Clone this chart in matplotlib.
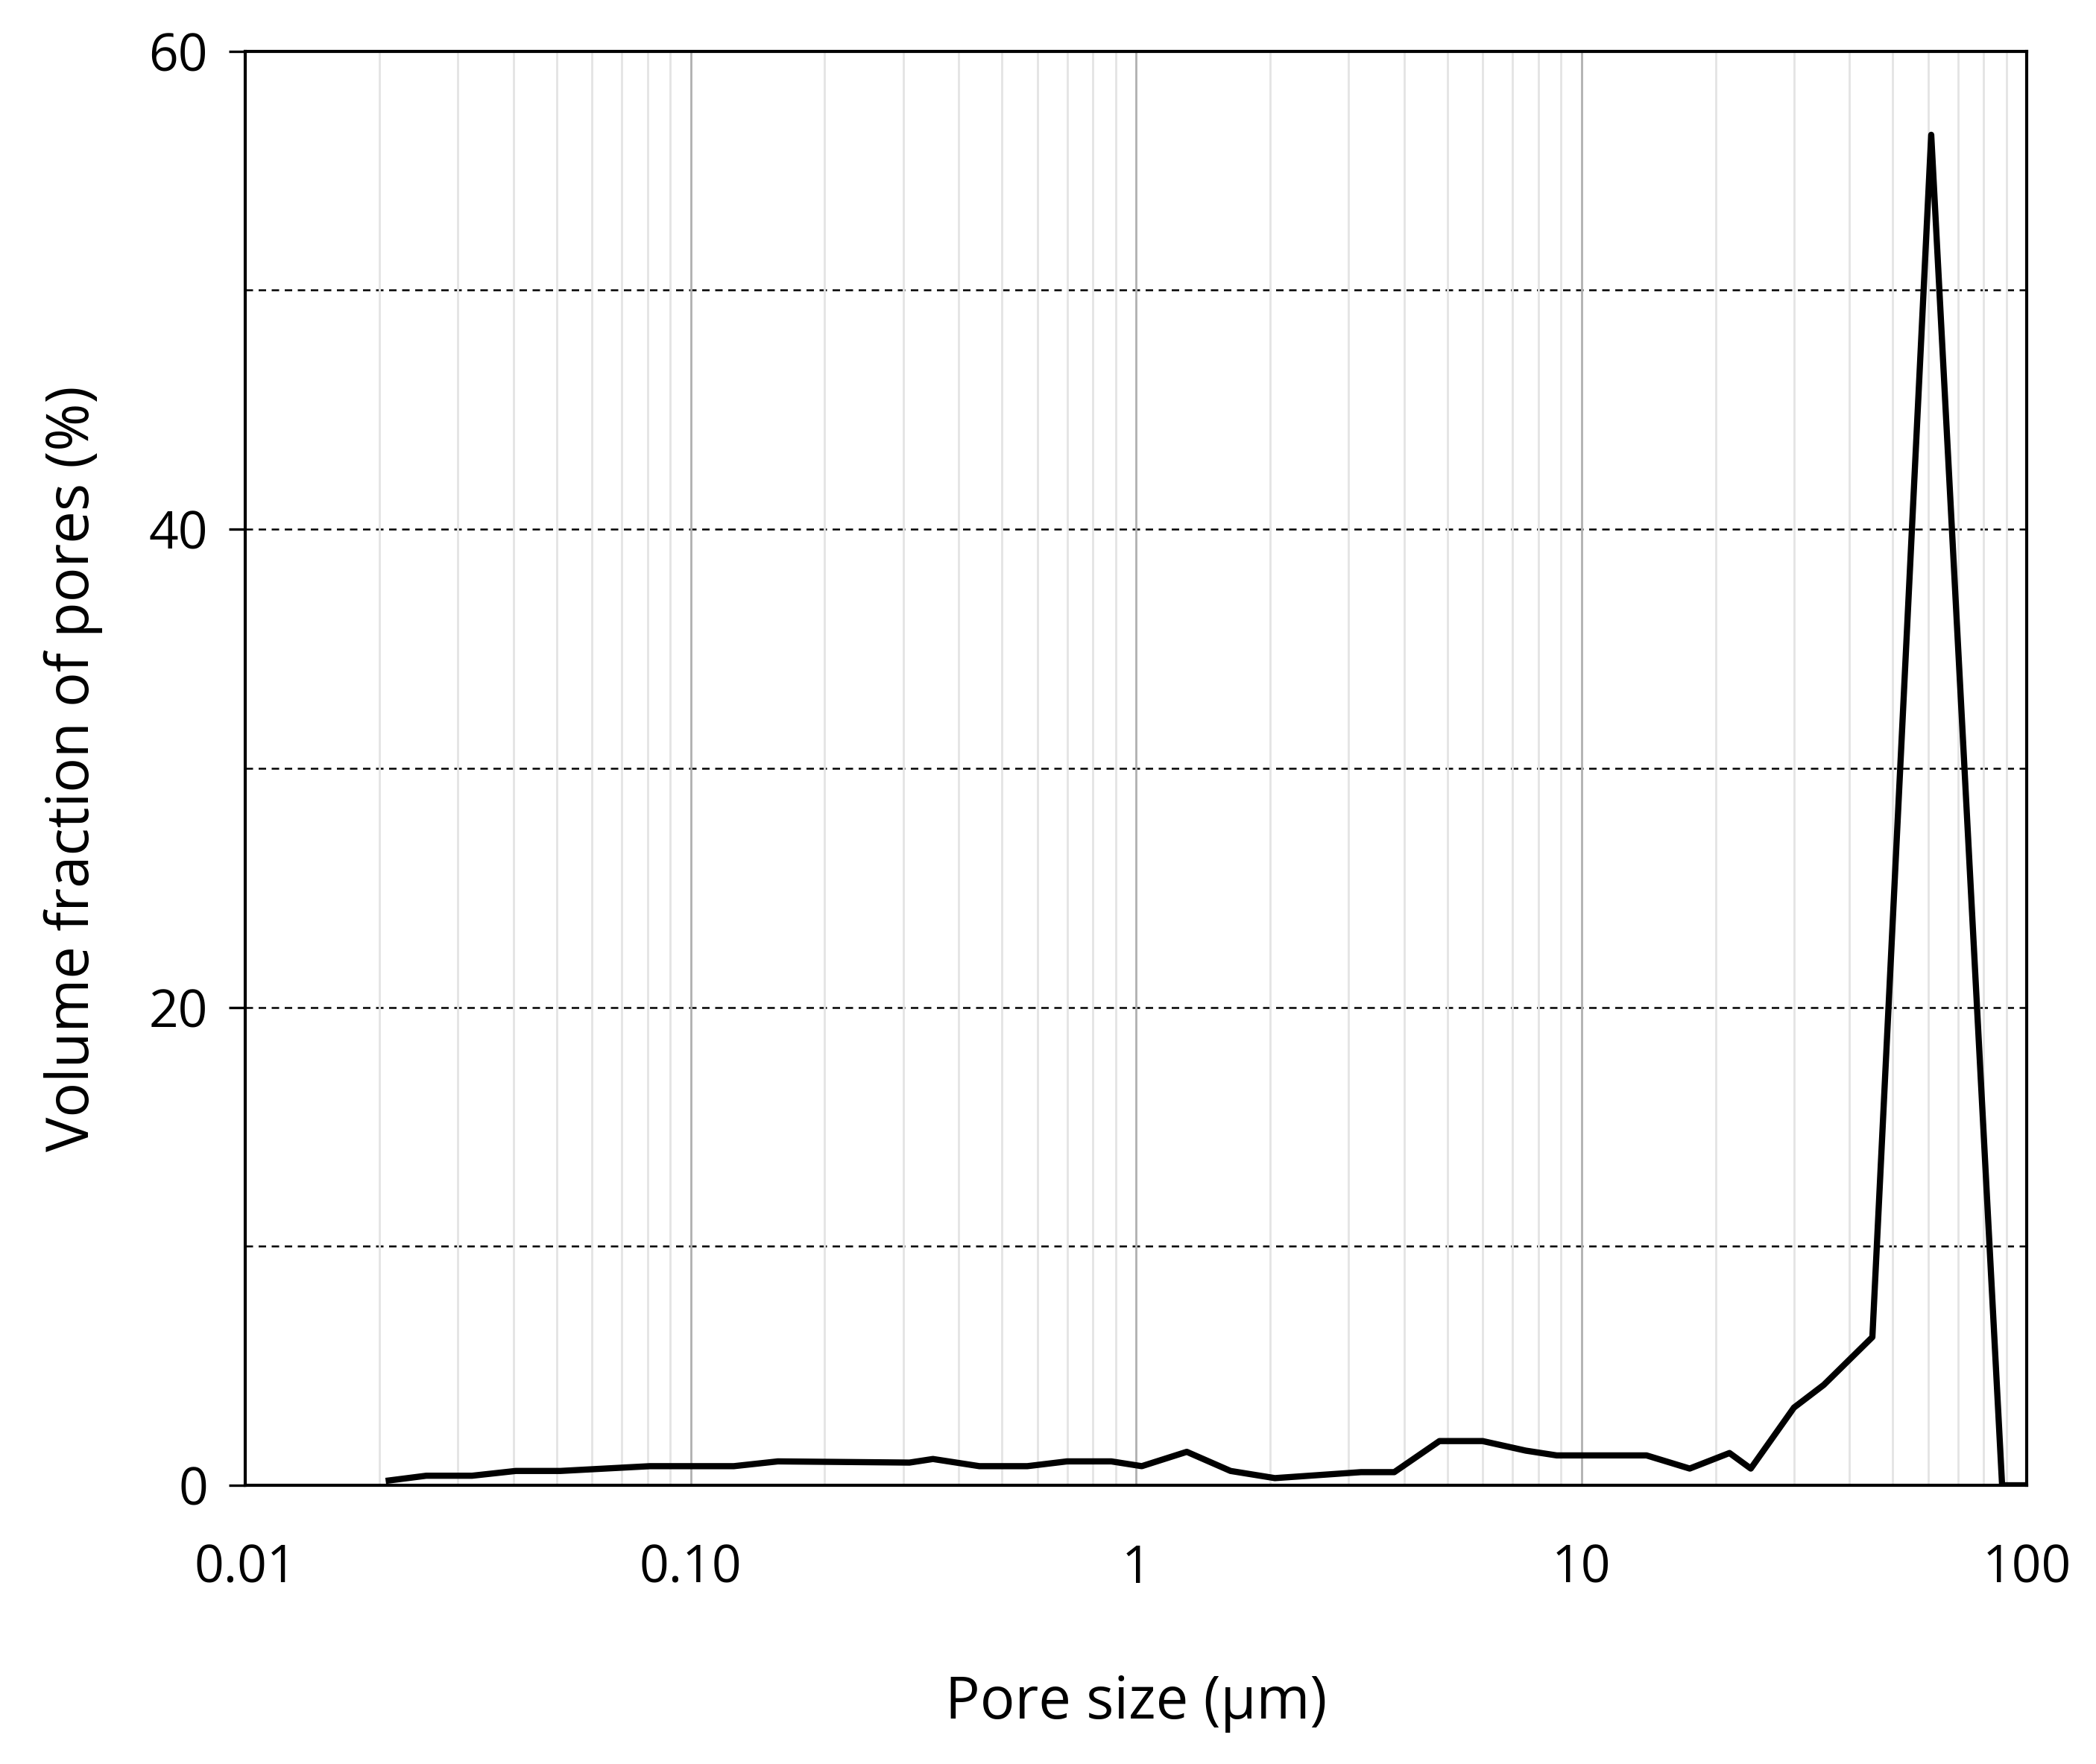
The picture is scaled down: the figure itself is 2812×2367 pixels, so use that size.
import matplotlib
matplotlib.use("Agg")
import matplotlib.pyplot as plt
from matplotlib.ticker import NullFormatter, LogLocator

pore_size = [0.021, 0.0255, 0.0323, 0.0405, 0.051, 0.081, 0.125, 0.157, 0.31, 0.35, 0.445,
             0.57, 0.70, 0.88, 1.03, 1.3, 1.63, 2.05, 3.2, 3.8, 4.8, 6.0, 7.5, 8.8, 11, 14,
             17.5, 21.5, 24, 30, 35, 45, 61, 88, 99]
volume_fraction = [0.2, 0.4, 0.4, 0.6, 0.6, 0.8, 0.8, 1.0, 0.95, 1.1, 0.8,
                   0.8, 1.0, 1.0, 0.8, 1.4, 0.6, 0.3, 0.55, 0.55, 1.85, 1.85, 1.45, 1.25, 1.25, 1.25,
                   0.7, 1.35, 0.7, 3.25, 4.2, 6.2, 56.5, 0.0, 0.0]
x_ticks = [0.01, 0.1, 1, 10, 100]
x_labels = ["0.01", "0.10", "1", "10", "100"]
y_ticks = [0, 20, 40, 60]

plt.rcParams['font.family'] = ['Open Sans', 'DejaVu Sans']
fig = plt.figure(figsize=(14.06, 11.835), dpi=200)
ax = fig.add_axes([0.117, 0.158, 0.850, 0.813])
ax.set_xscale('log')
ax.set_xlim(0.01, 100)
ax.set_ylim(0, 60)
ax.xaxis.set_minor_locator(LogLocator(base=10, subs=range(2, 10)))
ax.xaxis.set_minor_formatter(NullFormatter())
ax.grid(which='minor', axis='x', color='#e4e4e4', lw=1.0)
ax.grid(which='major', axis='x', color='#b0b0b0', lw=1.0)
for yv in [10, 20, 30, 40, 50]:
    ax.axhline(yv, color='black', ls=(0, (4, 3)), lw=0.9, zorder=1)
ax.plot(pore_size, volume_fraction, color='black', lw=3, zorder=3)
ax.set_xticks(x_ticks)
ax.set_xticklabels(x_labels)
ax.set_yticks(y_ticks)
ax.tick_params(axis='both', which='major', labelsize=25, length=8, width=1.2, pad=10)
ax.tick_params(axis='x', which='major', length=0, pad=28)
ax.tick_params(axis='x', which='minor', length=0)
for s in ax.spines.values():
    s.set_linewidth(1.5)
ax.set_xlabel('Pore size (μm)', fontsize=28, labelpad=38)
ax.set_ylabel('Volume fraction of pores (%)', fontsize=28, labelpad=22)
fig.savefig('out.png', dpi=200)
